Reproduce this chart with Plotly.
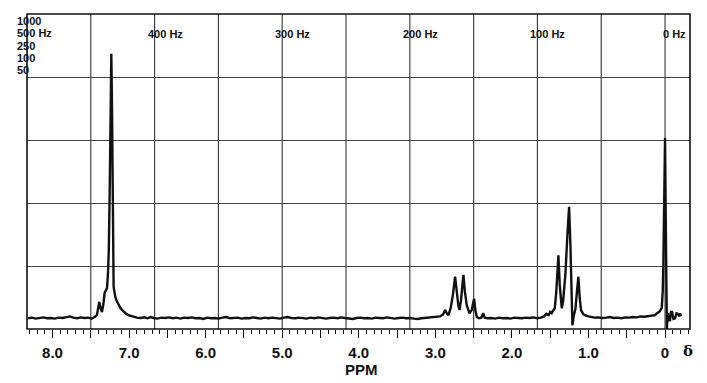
import plotly.graph_objects as go

# Spectrum trace (chemical shift in ppm, intensity in grid units)
ppm = [
    8.32, 8.27, 8.22, 8.17, 8.12, 8.07, 8.02, 7.97, 7.92, 7.87, 7.82, 7.77, 7.73, 7.68, 7.63,
    7.58, 7.53, 7.49, 7.45, 7.42, 7.40, 7.389, 7.372, 7.354, 7.335, 7.320, 7.305, 7.288, 7.275,
    7.265, 7.252, 7.242, 7.232, 7.222, 7.213, 7.202, 7.19, 7.18, 7.16, 7.137, 7.11, 7.089, 7.06,
    7.037, 7.01, 6.984, 6.95, 6.90, 6.85, 6.80, 6.76, 6.72, 6.68, 6.63, 6.58, 6.53, 6.48, 6.43,
    6.38, 6.33, 6.28, 6.23, 6.18, 6.13, 6.08, 6.03, 5.98, 5.93, 5.88, 5.83, 5.78, 5.73, 5.68,
    5.63, 5.58, 5.53, 5.48, 5.43, 5.38, 5.33, 5.28, 5.23, 5.18, 5.13, 5.08, 5.03, 4.98, 4.93,
    4.88, 4.83, 4.78, 4.73, 4.68, 4.63, 4.58, 4.53, 4.48, 4.43, 4.38, 4.33, 4.28, 4.23, 4.18,
    4.13, 4.08, 4.03, 3.98, 3.93, 3.88, 3.83, 3.78, 3.73, 3.68, 3.63, 3.58, 3.53, 3.48, 3.43,
    3.38, 3.33, 3.28, 3.23, 3.18, 3.13, 3.08, 3.03, 2.98, 2.94, 2.90, 2.872, 2.85, 2.829, 2.80,
    2.77, 2.742, 2.72, 2.70, 2.685, 2.665, 2.645, 2.633, 2.615, 2.59, 2.555, 2.525, 2.505, 2.493,
    2.478, 2.458, 2.43, 2.40, 2.376, 2.355, 2.32, 2.27, 2.22, 2.17, 2.12, 2.07, 2.02, 1.97, 1.92,
    1.87, 1.82, 1.77, 1.72, 1.67, 1.62, 1.58, 1.55, 1.52, 1.50, 1.48, 1.458, 1.44, 1.42, 1.393,
    1.375, 1.349, 1.33, 1.30, 1.275, 1.253, 1.235, 1.222, 1.210, 1.19, 1.17, 1.15, 1.132, 1.115,
    1.097, 1.07, 1.045, 1.00, 0.96, 0.92, 0.87, 0.82, 0.77, 0.72, 0.67, 0.62, 0.57, 0.52, 0.47,
    0.42, 0.37, 0.32, 0.27, 0.22, 0.17, 0.13, 0.104, 0.07, 0.043, 0.03, 0.022, 0.012, 0.0,
    -0.008, -0.015, -0.020, -0.024, -0.03, -0.039, -0.052, -0.065, -0.078, -0.091, -0.11,
    -0.131, -0.15, -0.170, -0.185, -0.196, -0.209,
]
intensity = [
    0.17, 0.18, 0.165, 0.175, 0.185, 0.17, 0.175, 0.165, 0.18, 0.175, 0.19, 0.2, 0.18, 0.17, 0.185,
    0.175, 0.18, 0.165, 0.19, 0.22, 0.36, 0.43, 0.33, 0.27, 0.40, 0.57, 0.61, 0.65, 0.9,
    1.25, 2.3, 3.4, 4.37, 3.4, 2.0, 0.67, 0.58, 0.51, 0.44, 0.38, 0.33, 0.30, 0.26,
    0.24, 0.22, 0.21, 0.19, 0.18, 0.175, 0.185, 0.17, 0.19, 0.175, 0.165, 0.18, 0.175, 0.185, 0.17,
    0.18, 0.165, 0.18, 0.175, 0.185, 0.17, 0.175, 0.16, 0.18, 0.17, 0.175, 0.165, 0.18, 0.19, 0.17,
    0.175, 0.18, 0.165, 0.175, 0.17, 0.185, 0.175, 0.165, 0.18, 0.17, 0.18, 0.175, 0.165, 0.18, 0.19,
    0.175, 0.17, 0.18, 0.175, 0.165, 0.18, 0.17, 0.185, 0.175, 0.165, 0.175, 0.18, 0.17, 0.185, 0.175,
    0.17, 0.16, 0.175, 0.18, 0.17, 0.175, 0.165, 0.18, 0.175, 0.17, 0.185, 0.175, 0.165, 0.175, 0.18,
    0.17, 0.175, 0.165, 0.16, 0.17, 0.175, 0.18, 0.19, 0.185, 0.2, 0.23, 0.30, 0.25, 0.22, 0.33,
    0.55, 0.83, 0.55, 0.38, 0.30, 0.45, 0.72, 0.86, 0.6, 0.38, 0.25, 0.3, 0.42, 0.48,
    0.3, 0.19, 0.17, 0.18, 0.25, 0.18, 0.17, 0.175, 0.165, 0.18, 0.17, 0.175, 0.165, 0.18, 0.175,
    0.17, 0.18, 0.175, 0.185, 0.17, 0.18, 0.2, 0.24, 0.22, 0.27, 0.25, 0.30, 0.33, 0.6, 1.17,
    0.7, 0.33, 0.45, 0.9, 1.5, 1.94, 1.3, 0.6, 0.06, 0.22, 0.32, 0.6, 0.83, 0.5,
    0.30, 0.24, 0.22, 0.2, 0.19, 0.18, 0.185, 0.175, 0.18, 0.19, 0.175, 0.18, 0.17, 0.185, 0.18,
    0.19, 0.185, 0.2, 0.195, 0.2, 0.21, 0.22, 0.25, 0.28, 0.33, 0.6, 1.05, 1.9, 3.03,
    1.9, 0.9, 0.3, 0.0, 0.15, 0.25, 0.14, 0.14, 0.27, 0.27, 0.16,
    0.17, 0.25, 0.24, 0.20, 0.25, 0.20,
]

# Axis / labels
ppm_tick_values = [8.0, 7.5, 7.0, 6.5, 6.0, 5.5, 5.0, 4.5, 4.0, 3.5, 3.0, 2.5, 2.0, 1.5, 1.0, 0.5, 0.0]
ppm_tick_labels = ["8.0", "", "7.0", "", "6.0", "", "5.0", "", "4.0", "", "3.0", "", "2.0", "", "1.0", "", "0"]
spectrometer_mhz = 60.0
hz_grid = [0, 50, 100, 150, 200, 250, 300, 350, 400, 450]
hz_labels = {400: "400 Hz", 300: "300 Hz", 200: "200 Hz", 100: "100 Hz", 0: "0 Hz"}
sweep_labels = ["1000", "500 Hz", "250", "100", "50"]
x_range = [500 / spectrometer_mhz, -0.326]

FONT = "Liberation Sans, Arial, Helvetica, sans-serif"
GRID = "#444444"

fig = go.Figure()
fig.add_trace(go.Scatter(
    x=ppm, y=intensity, mode="lines",
    line=dict(color="#111111", width=2.4),
    hoverinfo="skip", showlegend=False,
))

shapes = []
for hz in hz_grid:
    shapes.append(dict(type="line", xref="x", yref="paper", x0=hz / spectrometer_mhz,
                       x1=hz / spectrometer_mhz, y0=0, y1=1, layer="below",
                       line=dict(color=GRID, width=1.2)))
shapes.append(dict(type="rect", xref="paper", yref="paper", x0=0, x1=1, y0=0, y1=1,
                   line=dict(color="#111111", width=1.6)))

annotations = []
for hz, txt in hz_labels.items():
    annotations.append(dict(x=hz / spectrometer_mhz, y=1, xref="x", yref="paper",
                            text=txt, showarrow=False, xanchor="left", yanchor="middle",
                            xshift=-9 if hz else -4, yshift=-20,
                            font=dict(family=FONT, size=11, color="#111", weight="bold")))
for i, txt in enumerate(sweep_labels):
    annotations.append(dict(x=0, y=1, xref="paper", yref="paper", text=txt, showarrow=False,
                            xanchor="left", yanchor="middle", xshift=-12, yshift=-7 - 12.3 * i,
                            font=dict(family=FONT, size=11, color="#111", weight="bold")))
annotations.append(dict(x=0.505, y=-0.13, xref="paper", yref="paper", text="PPM",
                        showarrow=False, xanchor="center", yanchor="middle",
                        font=dict(family=FONT, size=15, color="#111", weight="bold")))
annotations.append(dict(x=0.997, y=-0.07, xref="paper", yref="paper", text="δ",
                        showarrow=False, xanchor="center", yanchor="middle",
                        font=dict(family="DejaVu Serif, serif", size=15, color="#111", weight="bold")))

# the page adds an 8 px body margin, so the figure is 8 px smaller on each axis
fig.update_layout(
    width=699, height=375,
    margin=dict(l=19, r=17, t=6, b=54),
    paper_bgcolor="white", plot_bgcolor="white",
    shapes=shapes, annotations=annotations,
    xaxis=dict(
        range=x_range, showgrid=False, zeroline=False, showline=False,
        tickmode="array", tickvals=ppm_tick_values, ticktext=ppm_tick_labels,
        ticks="outside", ticklen=8, tickwidth=1, tickcolor="#111",
        ticklabelstandoff=2,
        minor=dict(tickmode="linear", tick0=0, dtick=0.1, ticks="outside", ticklen=4,
                   tickwidth=1, tickcolor="#111", showgrid=False),
        tickfont=dict(family=FONT, size=15, color="#111", weight="bold"),
    ),
    yaxis=dict(
        range=[0, 5], showgrid=True, dtick=1, tick0=0, gridcolor=GRID, gridwidth=1.2,
        zeroline=False, showline=False, showticklabels=False, ticks="",
    ),
)

fig.write_html("out.html")
